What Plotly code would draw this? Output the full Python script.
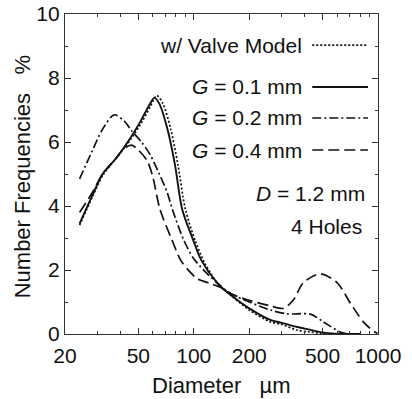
import plotly.graph_objects as go

# Diameter (um) and number frequency (%)
d_valve = [24, 28, 32, 38, 45, 52, 58, 63, 68, 75, 82, 90, 102, 115, 136, 160, 200, 260, 300, 365, 430, 486, 560, 650]
f_valve = [3.4, 4.25, 4.95, 5.5, 6.05, 6.6, 7.1, 7.45, 7.2, 6.4, 5.3, 3.9, 2.9, 2.2, 1.55, 1.2, 0.75, 0.38, 0.3, 0.12, 0.06, 0.03, 0.0, 0.0]

d_g01 = [24, 28, 32, 38, 45, 52, 58, 61, 65, 72, 79, 86.5, 99, 110, 134, 160, 200, 260, 300, 365, 430, 486, 560, 650, 800]
f_g01 = [3.45, 4.3, 5.0, 5.5, 6.1, 6.7, 7.2, 7.38, 7.2, 6.4, 5.3, 3.9, 2.95, 2.3, 1.6, 1.2, 0.8, 0.44, 0.35, 0.22, 0.13, 0.06, 0.02, 0.0, 0.0]

d_g02 = [24, 28, 32, 37, 42, 46, 52, 58, 65, 72, 76, 88, 100, 120, 140, 160, 200, 260, 321, 430, 505, 623, 680]
f_g02 = [4.85, 5.7, 6.4, 6.85, 6.65, 6.35, 6.0, 5.6, 5.0, 4.4, 3.95, 2.95, 2.35, 1.85, 1.5, 1.25, 1.0, 0.75, 0.63, 0.62, 0.38, 0.06, 0.0]

d_g04 = [24, 28, 32, 38, 42, 46, 50, 56, 60, 65.5, 76, 85, 95, 105, 120, 140, 160, 200, 260, 307, 347, 393, 486, 601, 707, 832, 950, 993]
f_g04 = [3.8, 4.4, 5.0, 5.5, 5.8, 5.9, 5.75, 5.4, 4.9, 3.9, 2.95, 2.3, 1.95, 1.72, 1.6, 1.45, 1.25, 1.05, 0.88, 0.8, 1.06, 1.6, 1.88, 1.6, 0.97, 0.38, 0.08, 0.02]

x_ticks = [20, 50, 100, 200, 500, 1000]
x_minor = [30, 40, 60, 70, 80, 90, 300, 400, 600, 700, 800, 900]
y_ticks = [0, 2, 4, 6, 8, 10]

series = [
    ("w/ Valve Model", d_valve, f_valve, "2px,2px", 1.7),
    ("G = 0.1 mm", d_g01, f_g01, "solid", 1.9),
    ("G = 0.2 mm", d_g02, f_g02, "9px,3px,2px,3px", 1.7),
    ("G = 0.4 mm", d_g04, f_g04, "11px,5px", 1.7),
]
legend_labels = ["w/ Valve Model", "<i>G</i> = 0.1 mm", "<i>G</i> = 0.2 mm", "<i>G</i> = 0.4 mm"]
legend_y = [0.903, 0.772, 0.675, 0.575]

FONT = "Liberation Sans, Arial, sans-serif"
INK = "#111"
fig = go.Figure()
for name, xs, ys, dash, w in series:
    fig.add_trace(go.Scatter(x=xs, y=ys, mode="lines", name=name,
                             line=dict(color=INK, width=w, dash=dash, shape="spline", smoothing=0.8),
                             showlegend=False))

for (name, xs, ys, dash, w), lab, yy in zip(series, legend_labels, legend_y):
    fig.add_annotation(xref="paper", yref="paper", x=0.765, y=yy, text=lab, showarrow=False,
                       xanchor="right", yanchor="middle", font=dict(size=21, color=INK, family=FONT))
    fig.add_shape(type="line", xref="paper", yref="paper", x0=0.79, x1=0.968, y0=yy, y1=yy,
                  line=dict(color=INK, width=w, dash=dash))

fig.add_annotation(xref="paper", yref="paper", x=0.965, y=0.440, text="<i>D</i> = 1.2 mm", showarrow=False,
                   xanchor="right", yanchor="middle", font=dict(size=21, color=INK, family=FONT))
fig.add_annotation(xref="paper", yref="paper", x=0.955, y=0.335, text="4 Holes", showarrow=False,
                   xanchor="right", yanchor="middle", font=dict(size=21, color=INK, family=FONT))

# axis titles
fig.add_annotation(xref="paper", yref="paper", x=0.5, y=-0.16, text="Diameter\u00a0\u00a0 \u00b5m", showarrow=False,
                   xanchor="center", yanchor="middle", font=dict(size=22, color=INK, family=FONT))
fig.add_annotation(xref="paper", yref="paper", x=-0.137, y=0.49, text="Number Frequencies\u00a0\u00a0 %", showarrow=False,
                   textangle=-90, xanchor="center", yanchor="middle", font=dict(size=22, color=INK, family=FONT))

axis_common = dict(showline=True, linecolor="#333", linewidth=1.2, mirror="ticks", ticks="inside",
                   tickcolor="#333", ticklen=6, showgrid=False, zeroline=False, automargin=False,
                   tickfont=dict(size=21, color=INK, family=FONT))
fig.update_xaxes(type="log", range=[1.30103, 3.0], tickvals=x_ticks, ticktext=[str(v) for v in x_ticks],
                 minor=dict(tickvals=x_minor, ticks="inside", ticklen=3, tickcolor="#333"),
                 ticklabelstandoff=3, **axis_common)
fig.update_yaxes(range=[0, 10], tickvals=y_ticks,
                 minor=dict(dtick=1, ticks="inside", ticklen=3, tickcolor="#333"),
                 **axis_common)
fig.update_layout(width=412, height=399, margin=dict(l=65, r=34, t=14, b=65),
                  paper_bgcolor="white", plot_bgcolor="white")
fig.write_html("out.html")
